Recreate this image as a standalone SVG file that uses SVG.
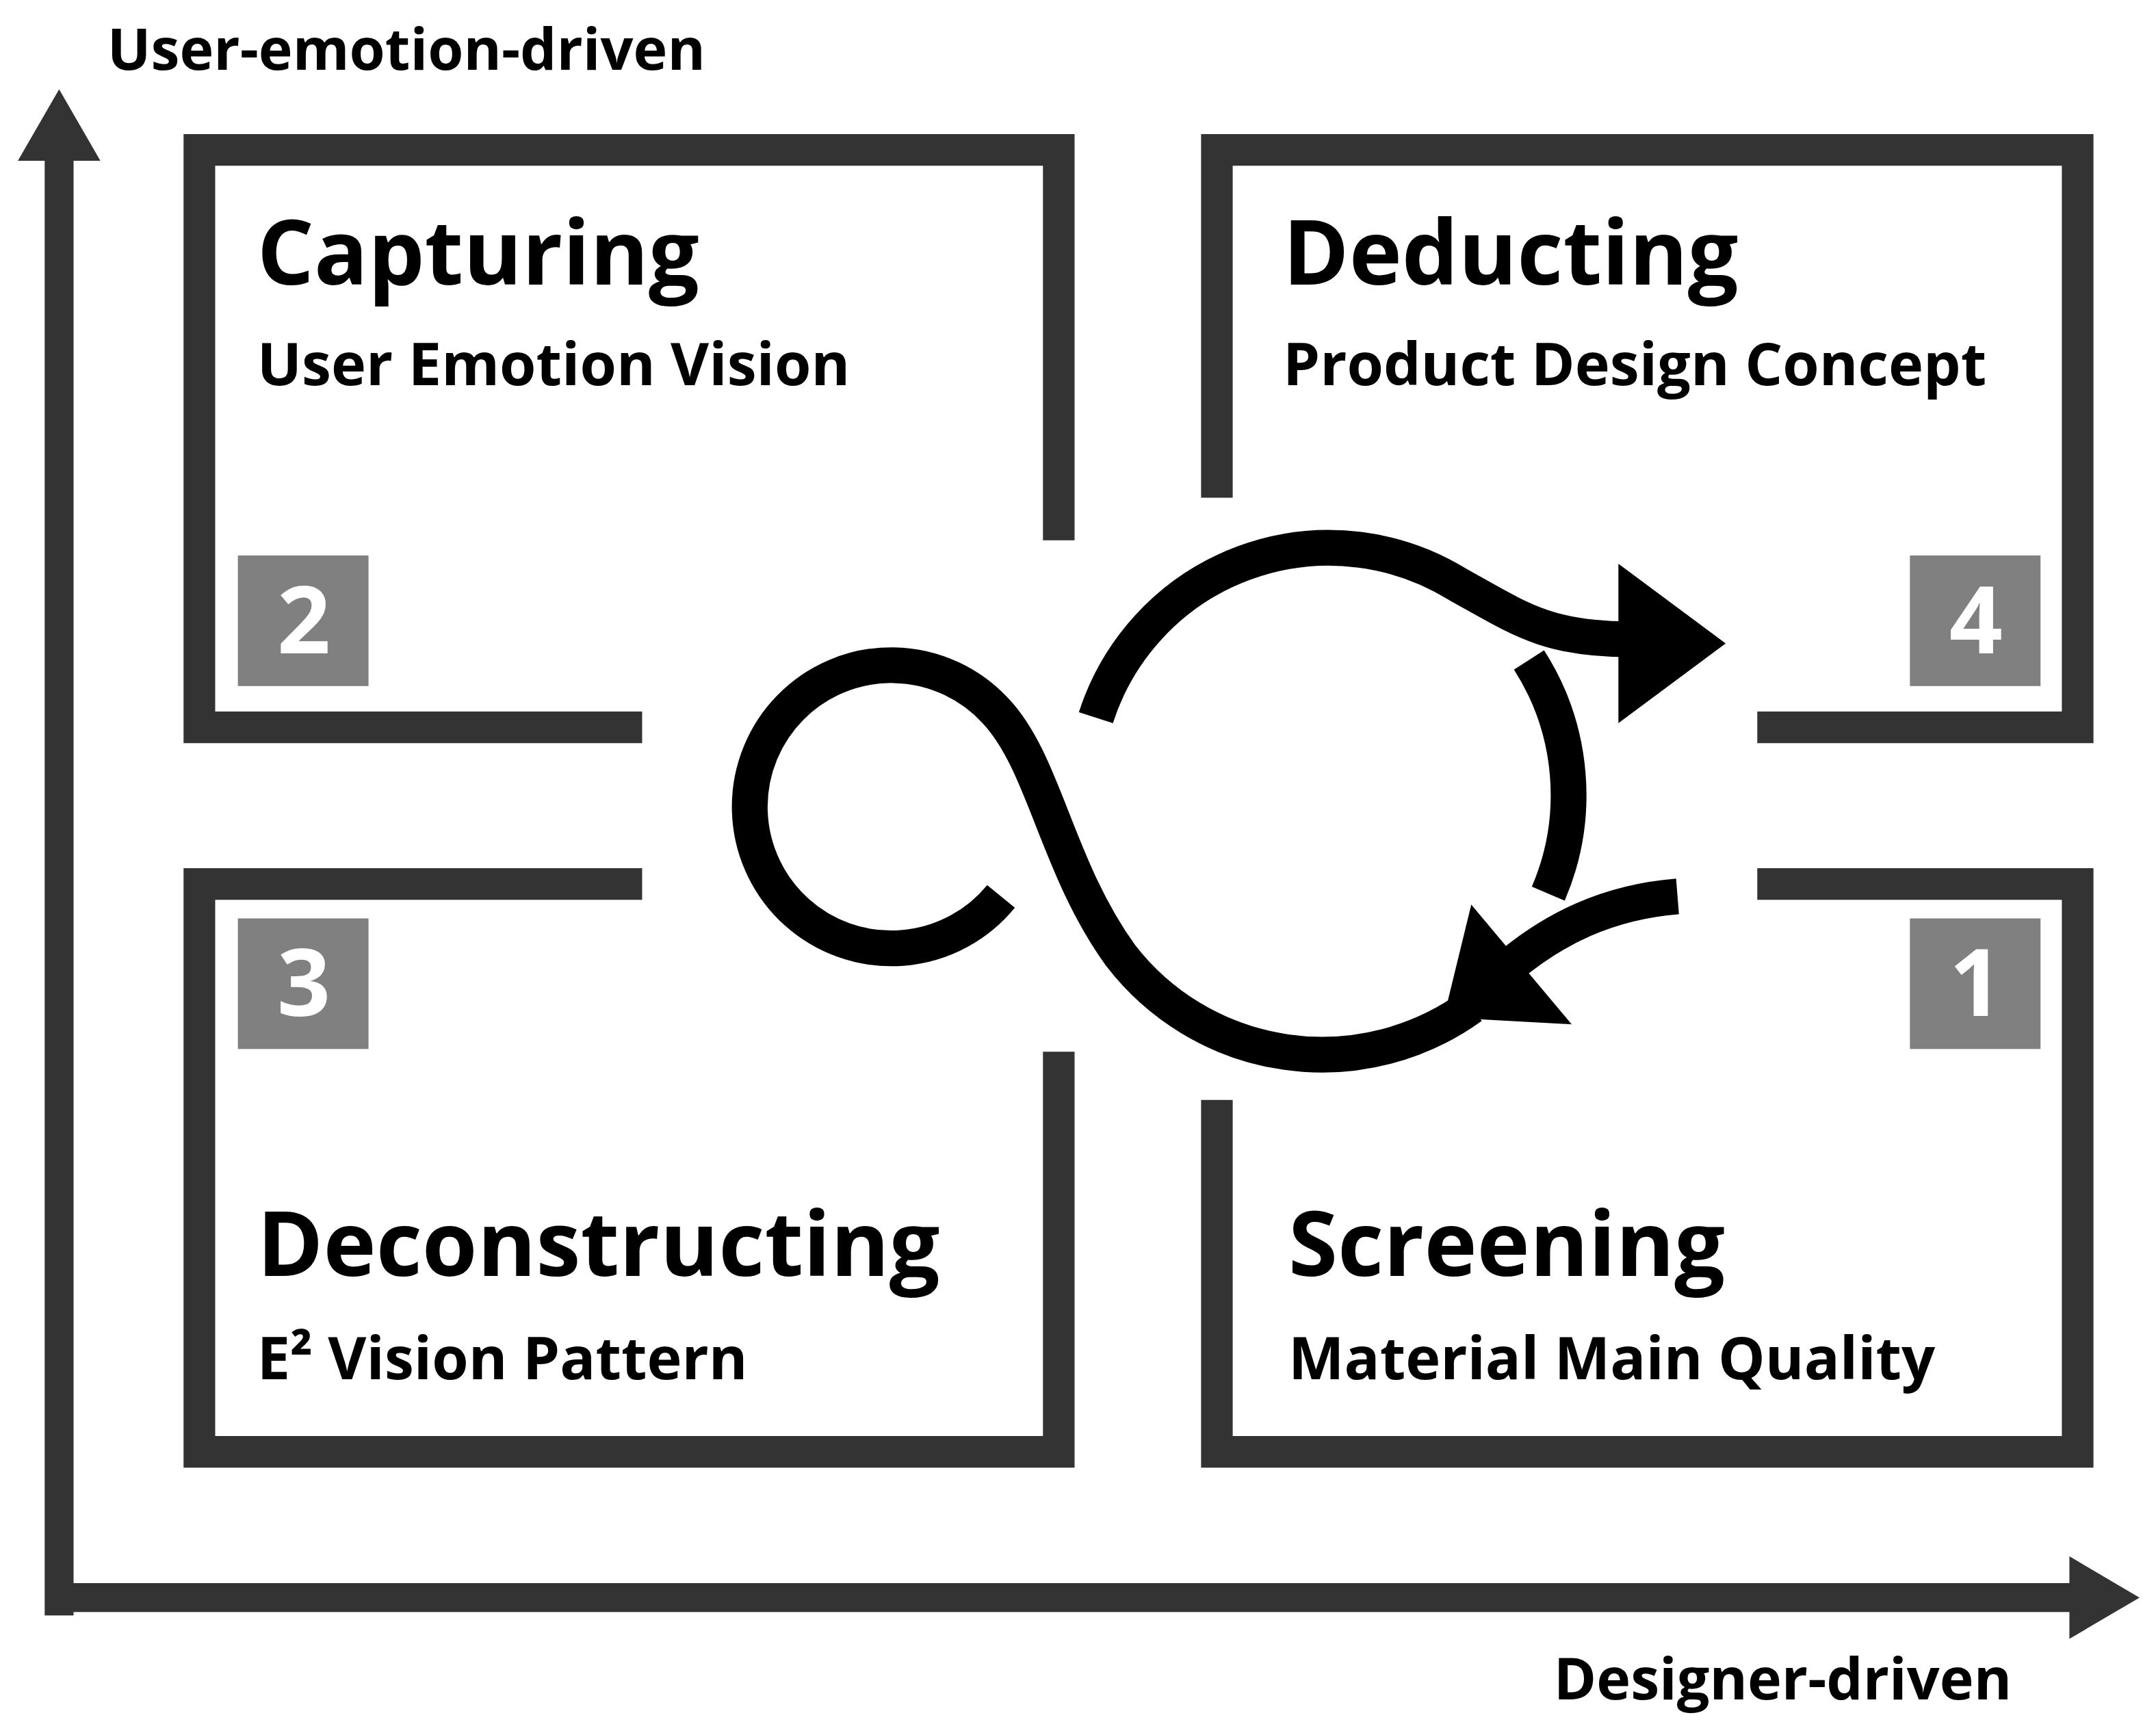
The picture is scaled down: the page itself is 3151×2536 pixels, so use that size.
<svg xmlns="http://www.w3.org/2000/svg" width="3151" height="2536" viewBox="0 0 3151 2536">
<style>
.box{fill:none;stroke:#333;stroke-width:23;stroke-linecap:butt}
.num{fill:#808080}
.nt{fill:#fff;font-family:"Open Sans",sans-serif;font-weight:700;font-size:68px;text-anchor:middle}
.t{fill:#000;font-family:"Open Sans",sans-serif;font-weight:700;font-size:65px}
.s{fill:#000;font-family:"Open Sans",sans-serif;font-weight:700;font-size:43px}
.ax{fill:#000;font-family:"Open Sans",sans-serif;font-weight:700;font-size:42px}
.loop{fill:none;stroke:#000;stroke-width:26}
</style>
<rect width="3151" height="2536" fill="#fff"/>
<g transform="scale(2.0096)">
<g id="axes">
<path d="M43 1175 V112 M33 1162 H1510" stroke="#333" stroke-width="21" fill="none"/>
<polygon points="43,65 73,117 13,117" fill="#333"/>
<polygon points="1556,1162 1505,1132 1505,1192" fill="#333"/>
<text class="ax" x="78" y="51">User-emotion-driven</text>
<text class="ax" x="1130" y="1236">Designer-driven</text>
</g>
<g id="capturing">
<path class="box" d="M467 529 H145 V109 H770 V393"/>
<rect class="num" x="173" y="404" width="95" height="95"/>
<text class="nt" x="221" y="475">2</text>
<text class="t" x="187" y="207">Capturing</text>
<text class="s" x="187" y="280">User Emotion Vision</text>
</g>
<g id="deducting">
<path class="box" d="M885 362 V109 H1511 V529 H1278"/>
<rect class="num" x="1389" y="404" width="95" height="95"/>
<text class="nt" x="1437" y="475">4</text>
<text class="t" x="933" y="207">Deducting</text>
<text class="s" x="933" y="280">Product Design Concept</text>
</g>
<g id="deconstructing">
<path class="box" d="M467 643 H145 V1056 H770 V765"/>
<rect class="num" x="173" y="668" width="95" height="95"/>
<text class="nt" x="221" y="739">3</text>
<text class="t" x="187" y="928">Deconstructing</text>
<text class="s" x="187" y="1003">E² Vision Pattern</text>
</g>
<g id="screening">
<path class="box" d="M1278 643 H1511 V1056 H885 V800"/>
<rect class="num" x="1389" y="668" width="95" height="95"/>
<text class="nt" x="1437" y="739">1</text>
<text class="t" x="937" y="928">Screening</text>
<text class="s" x="937" y="1003">Material Main Quality</text>
</g>
<g id="connectors">
<path class="loop" d="M728 652 A103 103 0 1 1 724 517 C760 555 768 630 815 695 A185 185 0 0 0 1070 732"/>
<path class="loop" d="M797 522 A178 178 0 0 1 1060 425 C1105 450 1125 465 1185 465"/>
<polygon points="1255,468 1177,410 1177,526" fill="#000"/>
<path class="loop" d="M1112 480 A182 182 0 0 1 1126 650"/>
<path class="loop" d="M1220 652 C1170 656 1130 675 1095 705"/>
<polygon points="1050,740 1070,658 1143,745" fill="#000"/>
</g>
</g>
</svg>
